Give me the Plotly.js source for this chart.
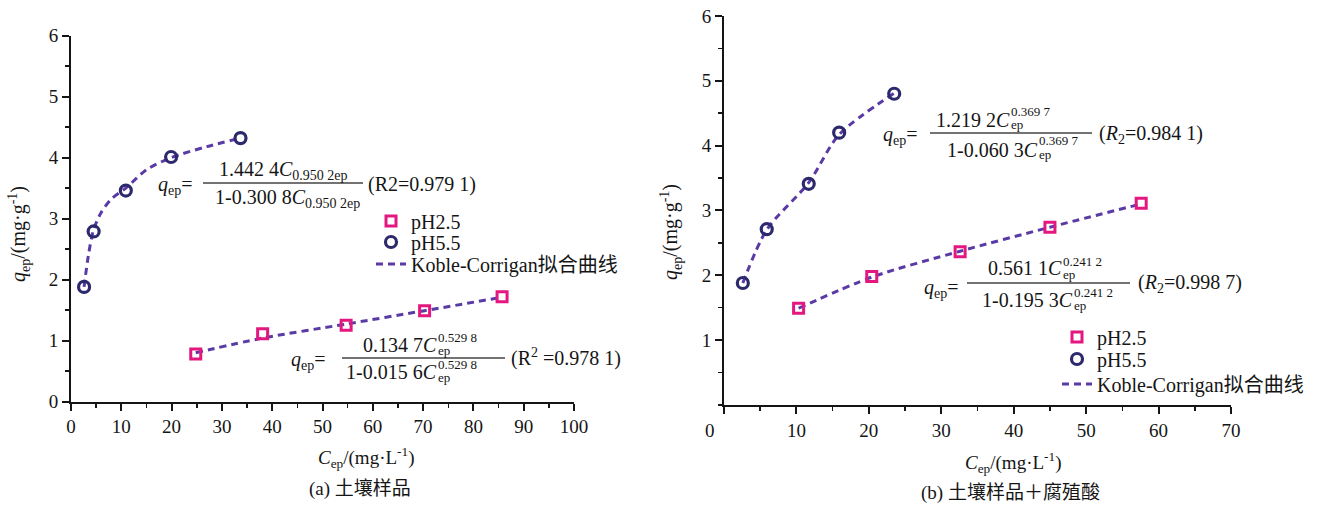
<!DOCTYPE html>
<html><head><meta charset="utf-8">
<script src="https://cdn.plot.ly/plotly-3.0.1.min.js"></script>
<style>html,body{margin:0;padding:0;background:#fff}#chart{width:1328px;height:506px}</style>
</head><body><div id="chart"></div>
<script>
// ---------- data ----------
// Panel (a) 土壤样品
const a_pH25_x = [24.8, 38.1, 54.7, 70.3, 85.7];
const a_pH25_y = [0.78, 1.11, 1.25, 1.49, 1.72];
const a_pH55_x = [2.6, 4.5, 10.9, 19.9, 33.7];
const a_pH55_y = [1.88, 2.79, 3.46, 4.01, 4.32];
const a_fit25_x = [24.8, 38.1, 54.7, 70.3, 85.7];
const a_fit25_y = [0.80, 1.04, 1.27, 1.49, 1.71];
const a_fit55_x = [2.6, 3.5, 4.5, 6, 8, 10.9, 15, 19.9, 27, 33.7];
const a_fit55_y = [1.88, 2.42, 2.82, 3.10, 3.32, 3.50, 3.80, 4.00, 4.18, 4.32];
// Panel (b) 土壤样品+腐殖酸
const b_pH25_x = [10.3, 20.4, 32.6, 45.0, 57.6];
const b_pH25_y = [1.49, 1.98, 2.36, 2.74, 3.11];
const b_pH55_x = [2.6, 5.9, 11.7, 15.9, 23.5];
const b_pH55_y = [1.88, 2.71, 3.41, 4.20, 4.80];
const b_fit25_x = [10.3, 20.4, 32.6, 45.0, 57.6];
const b_fit25_y = [1.49, 1.97, 2.37, 2.74, 3.10];
const b_fit55_x = [2.6, 5.9, 11.7, 15.9, 23.5];
const b_fit55_y = [1.88, 2.70, 3.43, 4.17, 4.81];
// axis ticks
const a_xticks = [0,10,20,30,40,50,60,70,80,90,100];
const b_xticks = [0,10,20,30,40,50,60,70];
const b_xticktext = ['0\u2003\u2002','10','20','30','40','50','60','70'];
const a_yticks = [0,1,2,3,4,5,6];
const b_yticks = [1,2,3,4,5,6];
// legend labels
const names = ['pH2.5', 'pH5.5', 'Koble-Corrigan拟合曲线'];

// ---------- styling ----------
const W = 1328, H = 506;
const SERIF = "'Liberation Serif', 'Times New Roman', 'Noto Sans CJK SC', serif";
const CJK = "'Liberation Serif', 'Noto Sans CJK SC', serif";
const INK = '#151515';
const MAG = '#e3177f', NAVY = '#2c2a6c', FITC = '#5a3ba6';

function sq(x, y, xa, ya, lg, show) {
  return {x, y, xaxis: xa, yaxis: ya, type: 'scatter', mode: 'markers', name: names[0],
    legend: lg, showlegend: show, cliponaxis: false,
    marker: {symbol: 'square-open', size: 10, color: MAG, line: {width: 3, color: MAG}}};
}
function ci(x, y, xa, ya, lg, show) {
  return {x, y, xaxis: xa, yaxis: ya, type: 'scatter', mode: 'markers', name: names[1],
    legend: lg, showlegend: show, cliponaxis: false,
    marker: {symbol: 'circle-open', size: 11, color: NAVY, line: {width: 3.2, color: NAVY}}};
}
function fit(x, y, xa, ya, lg, show) {
  return {x, y, xaxis: xa, yaxis: ya, type: 'scatter', mode: 'lines', name: names[2],
    legend: lg, showlegend: show, cliponaxis: false,
    line: {color: FITC, width: 3, dash: '7px,5px', shape: 'spline', smoothing: 0.8}};
}

const data = [
  fit(a_fit25_x, a_fit25_y, 'x', 'y', 'legend3', false),
  fit(a_fit55_x, a_fit55_y, 'x', 'y', 'legend3', true),
  sq(a_pH25_x, a_pH25_y, 'x', 'y', 'legend', true),
  ci(a_pH55_x, a_pH55_y, 'x', 'y', 'legend2', true),
  fit(b_fit25_x, b_fit25_y, 'x2', 'y2', 'legend6', false),
  fit(b_fit55_x, b_fit55_y, 'x2', 'y2', 'legend6', true),
  sq(b_pH25_x, b_pH25_y, 'x2', 'y2', 'legend4', true),
  ci(b_pH55_x, b_pH55_y, 'x2', 'y2', 'legend5', true)
];

function axBase() {
  return {showline: true, linecolor: INK, linewidth: 2, ticks: 'outside', ticklen: 7,
    tickwidth: 2, tickcolor: INK, showgrid: false, zeroline: false,
    tickfont: {family: SERIF, size: 19, color: INK}, fixedrange: true};
}
const xaxis = Object.assign(axBase(), {domain: [71/W, 574/W], range: [0, 100], anchor: 'y',
  tickmode: 'array', tickvals: a_xticks,
  minor: {ticks: 'outside', ticklen: 4, tickwidth: 1.5, tickcolor: INK, dtick: 5, tick0: 0}});
const yaxis = Object.assign(axBase(), {domain: [(H-401.5)/H, (H-35.7)/H], range: [0, 6], anchor: 'x',
  tickmode: 'array', tickvals: a_yticks,
  minor: {ticks: 'outside', ticklen: 4, tickwidth: 1.5, tickcolor: INK, dtick: 0.5, tick0: 0}});
const xaxis2 = Object.assign(axBase(), {domain: [724/W, 1231/W], range: [0, 70], anchor: 'y2',
  tickmode: 'array', tickvals: b_xticks, ticktext: b_xticktext,
  minor: {ticks: 'outside', ticklen: 4, tickwidth: 1.5, tickcolor: INK, dtick: 5, tick0: 0}});
const yaxis2 = Object.assign(axBase(), {domain: [(H-404.8)/H, (H-16)/H], range: [0, 6], anchor: 'x2',
  tickmode: 'array', tickvals: b_yticks,
  minor: {ticks: 'outside', ticklen: 4, tickwidth: 1.5, tickcolor: INK, dtick: 0.5, tick0: 0}});

function ann(text, px, py, opt) {
  opt = opt || {};
  return Object.assign({text, xref: 'paper', yref: 'paper', x: px/W, y: 1 - py/H,
    xanchor: 'left', yanchor: 'middle', showarrow: false, borderpad: 0,
    font: {family: opt.family || SERIF, size: opt.size || 20, color: INK}}, opt.extra || {});
}
const R = {extra: {xanchor: 'right'}};
const C = {extra: {xanchor: 'center'}};
const S = {size: 13};
const annotations = [
  // axis titles
  ann('<i>q</i><sub>ep</sub>/(mg·g<sup>-1</sup>)', 19, 234, {extra: {xanchor: 'center', textangle: -90}}),
  ann('<i>q</i><sub>ep</sub>/(mg·g<sup>-1</sup>)', 671, 232, {extra: {xanchor: 'center', textangle: -90}}),
  ann('<i>C</i><sub>ep</sub>/(mg·L<sup>-1</sup>)', 366, 457, {size: 19, extra: {xanchor: 'center'}}),
  ann('<i>C</i><sub>ep</sub>/(mg·L<sup>-1</sup>)', 1013, 462, {size: 19, extra: {xanchor: 'center'}}),
  // captions
  ann('(a) 土壤样品', 360, 489, {size: 19, family: CJK, extra: {xanchor: 'center'}}),
  ann('(b) 土壤样品＋腐殖酸', 1010, 493, {size: 19, family: CJK, extra: {xanchor: 'center'}}),

  // equation (a) pH5.5
  ann('<i>q</i><sub>ep</sub>=', 157, 185),
  ann('1.442 4<i>C</i><sub>0.950 2ep</sub>', 283, 170, C),
  ann('1-0.300 8<i>C</i><sub>0.950 2ep</sub>', 287, 199, C),
  ann('(R2=0.979 1)', 367, 184),
  // equation (a) pH2.5
  ann('<i>q</i><sub>ep</sub>=', 290, 360),
  ann('0.134 7<i>C</i>', 438, 345, R),
  ann('0.529 8', 437, 337, S), ann('ep', 437, 350, S),
  ann('1-0.015 6<i>C</i>', 438, 372, R),
  ann('0.529 8', 437, 364, S), ann('ep', 437, 377, S),
  ann('(R<sup>2</sup> =0.978 1)', 510, 357),

  // equation (b) pH5.5
  ann('<i>q</i><sub>ep</sub>=', 882, 135),
  ann('1.219 2<i>C</i>', 1011, 120, R),
  ann('0.369 7', 1010, 111, S), ann('ep', 1010, 124, S),
  ann('1-0.060 3<i>C</i>', 1039, 150, R),
  ann('0.369 7', 1038, 141, S), ann('ep', 1038, 154, S),
  ann('(<i>R</i><sub>2</sub>=0.984 1)', 1098, 134),
  // equation (b) pH2.5
  ann('<i>q</i><sub>ep</sub>=', 923, 288),
  ann('0.561 1<i>C</i>', 1063, 268, R),
  ann('0.241 2', 1062, 261, S), ann('ep', 1062, 274, S),
  ann('1-0.195 3<i>C</i>', 1074, 300, R),
  ann('0.241 2', 1073, 292, S), ann('ep', 1073, 305, S),
  ann('(<i>R</i><sub>2</sub>=0.998 7)', 1137, 283)
];

function bar(x0, x1, py) {
  return {type: 'line', xref: 'paper', yref: 'paper', x0: x0/W, x1: x1/W, y0: 1-py/H, y1: 1-py/H,
    line: {color: '#444', width: 1.5}};
}
const shapes = [bar(203, 363, 183), bar(342, 505, 358), bar(930, 1092, 133), bar(967, 1130, 283)];

function lg(px, py) {
  return {x: px/W, y: 1-py/H, xanchor: 'left', yanchor: 'middle', bgcolor: 'rgba(0,0,0,0)',
    borderwidth: 0, font: {family: CJK, size: 20, color: INK}, itemclick: false, itemdoubleclick: false};
}

const layout = {
  width: W, height: H, margin: {l: 0, r: 0, t: 0, b: 0},
  paper_bgcolor: '#fff', plot_bgcolor: '#fff', showlegend: true,
  xaxis, yaxis, xaxis2, yaxis2,
  legend: lg(371, 221), legend2: lg(371, 242), legend3: lg(371, 264),
  legend4: lg(1057, 337), legend5: lg(1057, 359), legend6: lg(1057, 384),
  annotations, shapes
};

Plotly.newPlot('chart', data, layout, {staticPlot: true});
</script></body></html>
